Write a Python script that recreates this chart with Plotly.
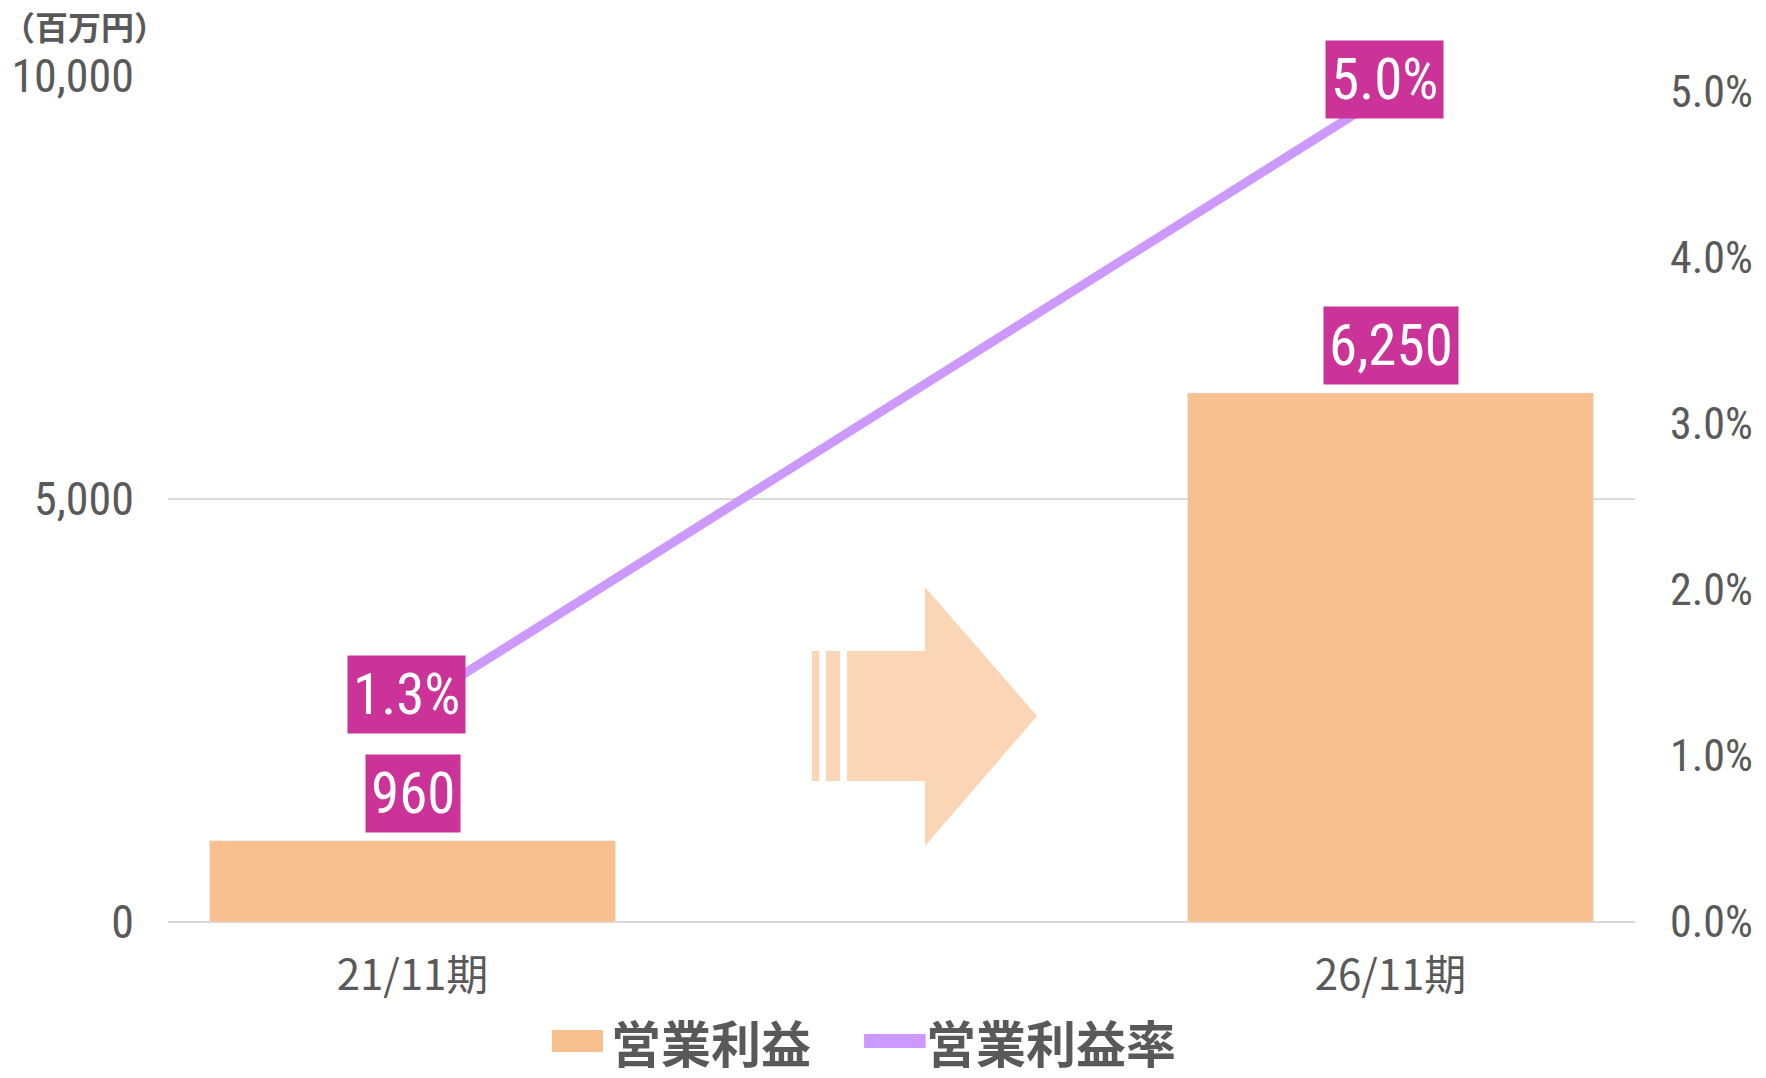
import plotly.graph_objects as go

# ---- data ----
categories = ["21/11期", "26/11期"]
cat_pos = [0, 2]              # middle slot left empty for the arrow
profit = [960, 6250]          # 営業利益 (百万円)
margin_pct = [1.3, 5.0]       # 営業利益率 (%)
profit_labels = ["960", "6,250"]
margin_labels = ["1.3%", "5.0%"]
series_names = ["営業利益", "営業利益率"]
left_ticks = [0, 5000, 10000]
left_ticktext = ["0", "5,000", "10,000"]
right_ticks = [0, 1, 2, 3, 4, 5]
right_ticktext = ["0.0%", "1.0%", "2.0%", "3.0%", "4.0%", "5.0%"]

BAR = "#F9C08F"
LINE = "#CC99FF"
LABEL_BG = "#CC3399"
ARROW = "#FBD6B6"
TXT = "#595959"
NUMFONT = "Roboto Condensed, Roboto, sans-serif"
JPFONT = "Noto Sans CJK JP, Noto Sans, sans-serif"

fig = go.Figure()
fig.add_trace(go.Bar(
    x=cat_pos, y=profit, name=series_names[0], marker_color=BAR,
    width=0.83, yaxis="y", hoverinfo="skip", showlegend=False))
fig.add_trace(go.Scatter(
    x=cat_pos, y=margin_pct, name=series_names[1], mode="lines",
    line=dict(color=LINE, width=9), yaxis="y2", hoverinfo="skip", showlegend=False))

# data labels
for xp, v, t in zip(cat_pos, profit, profit_labels):
    fig.add_annotation(x=xp, y=v, xref="x", yref="y", text=t, showarrow=False,
                       yanchor="bottom", yshift=8, bgcolor=LABEL_BG, borderpad=5,
                       font=dict(family=NUMFONT, size=57, color="white"))
for xp, v, t in zip(cat_pos, margin_pct, margin_labels):
    fig.add_annotation(x=xp, y=v, xref="x", yref="y2", text=t, showarrow=False,
                       yanchor="middle", yshift=12, xshift=-6, bgcolor=LABEL_BG, borderpad=5,
                       font=dict(family=NUMFONT, size=57, color="white"))

# unit label
fig.add_annotation(x=-0.1140, y=1.0579, xref="paper", yref="paper", xanchor="left",
                   yanchor="middle", text="（百万円）", showarrow=False, borderpad=0,
                   font=dict(family=JPFONT, size=33, color=TXT, weight="bold"))

# decorative arrow (paper coords)
arrow = ("M 0.4629 0.1665 L 0.5160 0.1665 L 0.5160 0.0897 L 0.5924 0.2432 "
         "L 0.5160 0.3955 L 0.5160 0.3200 L 0.4629 0.3200 Z "
         "M 0.4485 0.1665 L 0.4580 0.1665 L 0.4580 0.3200 L 0.4485 0.3200 Z "
         "M 0.4390 0.1665 L 0.4440 0.1665 L 0.4440 0.3200 L 0.4390 0.3200 Z")
fig.add_shape(type="path", xref="paper", yref="paper", path=arrow,
              fillcolor=ARROW, line=dict(width=0), layer="below")

# custom legend (below plot)
LEG_Y = -0.1405
fig.add_shape(type="rect", xref="paper", yref="paper",
              x0=0.2618, x1=0.2965, y0=LEG_Y - 0.0130, y1=LEG_Y + 0.0130,
              fillcolor=BAR, line=dict(width=0))
fig.add_annotation(x=0.3010, y=LEG_Y, xref="paper", yref="paper", xanchor="left",
                   yanchor="middle", text=series_names[0], showarrow=False,
                   borderpad=0,
                   font=dict(family=JPFONT, size=50, color=TXT, weight="bold"))
fig.add_shape(type="line", xref="paper", yref="paper",
              x0=0.4745, x1=0.5165, y0=LEG_Y, y1=LEG_Y,
              line=dict(color=LINE, width=14))
fig.add_annotation(x=0.5160, y=LEG_Y, xref="paper", yref="paper", xanchor="left",
                   yanchor="middle", text=series_names[1], showarrow=False,
                   borderpad=0,
                   font=dict(family=JPFONT, size=50, color=TXT, weight="bold"))

fig.update_layout(
    width=1766, height=1078,
    margin=dict(l=168, r=131, t=75, b=156, autoexpand=False),
    paper_bgcolor="white", plot_bgcolor="white",
    showlegend=False,
    xaxis=dict(range=[-0.5, 2.5], tickvals=cat_pos, ticktext=categories,
               showgrid=False, zeroline=False, showline=False, ticks="",
               automargin=False, ticklabelstandoff=25,
               tickfont=dict(family=JPFONT, size=42, color=TXT)),
    yaxis=dict(range=[0, 10005], tickvals=left_ticks, ticktext=left_ticktext,
               showgrid=True, gridcolor="#D9D9D9", gridwidth=1.5,
               zeroline=True, zerolinecolor="#D9D9D9", zerolinewidth=1.5,
               ticks="", ticklabelstandoff=33, automargin=False,
               tickfont=dict(family=NUMFONT, size=46, color=TXT)),
    yaxis2=dict(range=[0, 5.1], tickvals=right_ticks, ticktext=right_ticktext,
                overlaying="y", side="right", showgrid=False, zeroline=False,
                ticks="", ticklabelstandoff=34, automargin=False,
                tickfont=dict(family=NUMFONT, size=44, color=TXT)),
)

fig.write_html("out.html")
